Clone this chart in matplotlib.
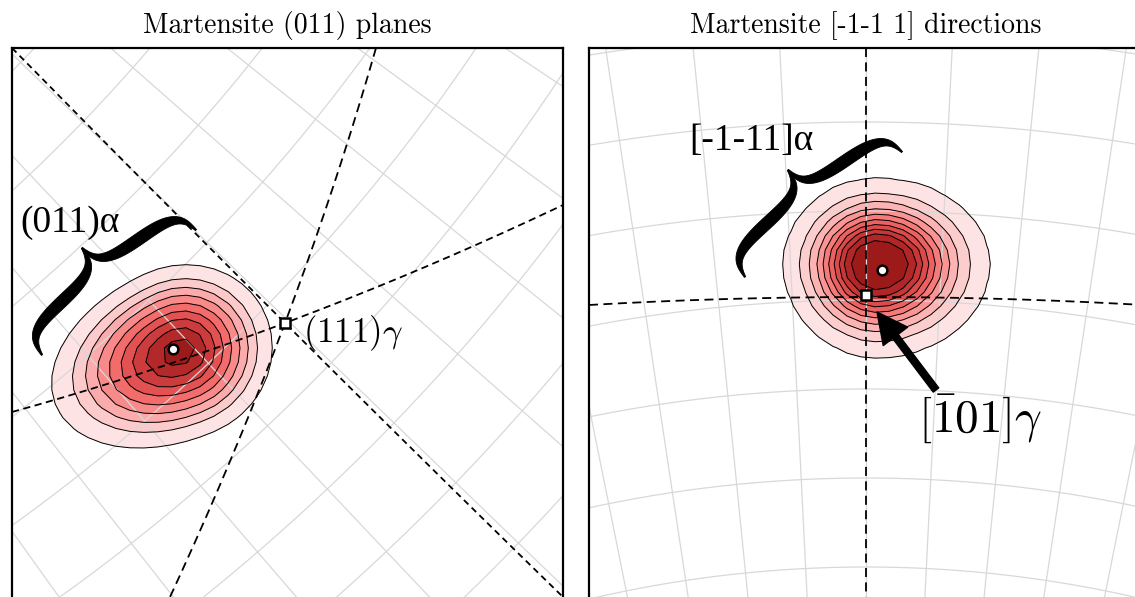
import numpy as np
import matplotlib
matplotlib.use("Agg")
import matplotlib.pyplot as plt
from matplotlib.colors import LinearSegmentedColormap
from matplotlib.patches import Polygon

W, H = 1135, 597
plt.rcParams['mathtext.fontset'] = 'cm'

# ---------------- data ----------------
titles = ["Martensite (011) planes", "Martensite [-1-1 1] directions"]

# left panel: (011)alpha pole density (cone-like, asymmetric), pixel space
left_peak = (181, 351)
left_angle = 24.0            # tilt of the major axis (deg, rising to the right)
left_a_pos, left_a_neg = 93, 138   # half-lengths along the major axis
left_b_pos, left_b_neg = 86, 88    # half-lengths along the minor axis
left_levels = [0.01, 0.17, 0.27, 0.36, 0.45, 0.54, 0.63, 0.73, 0.85]

# right panel: [-1-11]alpha direction density (gaussian-like, asymmetric)
right_peak = (877, 264)
right_angle = 0.0
right_a_pos, right_a_neg = 46, 38
right_b_pos, right_b_neg = 35, 38
right_levels = [0.05, 0.13, 0.21, 0.29, 0.37, 0.45, 0.53, 0.61, 0.69, 0.79]

# markers
left_mean = (173, 349)
left_gamma = (285, 323)
right_mean = (882, 270)
right_gamma = (866, 295)

# dashed plane traces (anchor points)
left_trace_a = ([12, 285, 563], [48, 323, 597])
left_trace_b = ([376, 285, 170], [48, 323, 597])
left_trace_c = ([12, 285, 563], [412, 323, 205])
right_trace_v = ([866, 866], [48, 602])
right_trace_h = ([589, 866, 1143], [305, 297, 305])

# braces: two ends and the cusp
left_brace = ((42, 355), (196, 230), (82, 248))
right_brace = ((745, 277), (902, 152), (788, 170))

# stereographic grid (polar approximations: center, ray angles below horizontal, ring radii)
left_grid_center = (-1095, -1015)
left_grid_angles = [31.0, 33.6, 36.2, 38.8, 41.4, 44.0, 46.6, 49.2, 51.8, 54.4, 57.0]
left_grid_radii = [1464, 1551, 1637, 1724, 1810, 1897, 1983, 2070, 2156, 2243, 2330]
right_grid_center = (866, 1780)
right_grid_angles = [75.75, 78.6, 81.45, 84.3, 87.15, 90.0, 92.85, 95.7, 98.55, 101.4, 104.25]
right_grid_radii = [1836, 1747, 1658, 1569, 1480, 1391, 1302, 1213, 1124]

band_colors = ['#fde3e3', '#fccaca', '#fbabab', '#f88a8a', '#f26c6c',
               '#e35252', '#cd3c3c', '#b42828', '#9c1a1a']
cmap = LinearSegmentedColormap.from_list('pinkred', band_colors)
GRID_COLOR = '#d8d8d8'

# ---------------- drawing ----------------
fig = plt.figure(figsize=(W / 100, H / 100), dpi=100)


def make_ax(x0, x1, ytop, ybot):
    ax = fig.add_axes([x0 / W, 1 - ybot / H, (x1 - x0) / W, (ybot - ytop) / H])
    ax.set_xlim(x0, x1)
    ax.set_ylim(ybot, ytop)
    ax.set_xticks([])
    ax.set_yticks([])
    for s in ax.spines.values():
        s.set_linewidth(1.6)
        s.set_zorder(10)
    return ax


def rho(X, Y, peak, ang, a_pos, a_neg, b_pos, b_neg):
    a = np.deg2rad(ang)
    dx = X - peak[0]
    dy = Y - peak[1]
    u = dx * np.cos(a) - dy * np.sin(a)
    v = -dx * np.sin(a) - dy * np.cos(a)
    au = np.where(u >= 0, a_pos, a_neg)
    bv = np.where(v >= 0, b_pos, b_neg)
    return np.sqrt((u / au) ** 2 + (v / bv) ** 2)


def draw_density(ax, Z, X, Y, levels):
    lv = list(levels) + [Z.max() + 0.01]
    cols = [cmap(t) for t in np.linspace(0, 1, len(lv) - 1)]
    ax.contourf(X, Y, Z, levels=lv, colors=cols, zorder=1)
    ax.contour(X, Y, Z, levels=levels, colors='k', linewidths=0.7, zorder=3)


def grid_xy(ax, step):
    xs = np.arange(ax.get_xlim()[0] - 8, ax.get_xlim()[1] + 8, step)
    ys = np.arange(min(ax.get_ylim()) - 8, max(ax.get_ylim()) + 8, step)
    return np.meshgrid(xs, ys)


def draw_polar_grid(ax, center, angles, radii, down=False):
    cx, cy = center
    r = np.linspace(0, 4000, 400)
    sgn = 1 if down else -1
    for a in angles:
        t = np.deg2rad(a)
        ax.plot(cx + r * np.cos(t), cy + sgn * r * np.sin(t), color=GRID_COLOR,
                lw=0.9, zorder=2)
    t = np.linspace(0, 2 * np.pi, 8000)
    for R in radii:
        ax.plot(cx + R * np.cos(t), cy - R * np.sin(t), color=GRID_COLOR,
                lw=0.9, zorder=2)


def dashed_curve(ax, xs, ys, by='x', dashes=(4, 2.5)):
    if len(xs) == 2:
        ax.plot(xs, ys, color='k', lw=1.3, dashes=dashes, zorder=4)
        return
    if by == 'x':
        p = np.polyfit(xs, ys, 2)
        xx = np.linspace(min(xs), max(xs), 300)
        ax.plot(xx, np.polyval(p, xx), color='k', lw=1.3, dashes=dashes, zorder=4)
    else:
        p = np.polyfit(ys, xs, 2)
        yy = np.linspace(min(ys), max(ys), 300)
        ax.plot(np.polyval(p, yy), yy, color='k', lw=1.3, dashes=dashes, zorder=4)


def draw_brace(ax, spec, tmax=12.0, tmin=1.5, beta=0.75, gam=0.85):
    p1, p2, cusp = [np.asarray(p, float) for p in spec]
    mid = (p1 + p2) / 2
    L = np.linalg.norm(p2 - p1)
    e = (p2 - p1) / L
    nvec = cusp - mid
    h = np.linalg.norm(nvec)
    n = nvec / h
    s = np.linspace(0, 1, 300)
    for sign in (-1, 1):
        u = sign * (L / 2) * (s - gam * np.sin(2 * np.pi * s) / (2 * np.pi))
        v = h * (1 - (s + beta * np.sin(2 * np.pi * s) / (2 * np.pi)))
        P = mid[None, :] + u[:, None] * e[None, :] + v[:, None] * n[None, :]
        d = np.gradient(P, axis=0)
        d /= np.linalg.norm(d, axis=1)[:, None]
        N = np.stack([-d[:, 1], d[:, 0]], axis=1)
        t = tmin + (tmax - tmin) * np.sin(np.pi * s) ** 1.2
        A = P + N * (t / 2)[:, None]
        B = P - N * (t / 2)[:, None]
        poly = np.vstack([A, B[::-1]])
        ax.add_patch(Polygon(poly, closed=True, facecolor='k', edgecolor='k',
                             lw=0.6, zorder=7))


# ---- left panel ----
axL = make_ax(12, 563, 48, 600)
X, Y = grid_xy(axL, 14)
ZL = 1 - rho(X, Y, left_peak, left_angle, left_a_pos, left_a_neg, left_b_pos, left_b_neg)
draw_density(axL, ZL, X, Y, left_levels)
draw_polar_grid(axL, left_grid_center, left_grid_angles, left_grid_radii, down=True)
dashed_curve(axL, *left_trace_a, by='x', dashes=(3.5, 2.5))
dashed_curve(axL, *left_trace_b, by='y', dashes=(5, 3))
dashed_curve(axL, *left_trace_c, by='x', dashes=(4, 2.5))
axL.plot(*left_mean, 'o', ms=7, mfc='white', mec='k', mew=1.8, zorder=6)
axL.plot(*left_gamma, 's', ms=6.5, mfc='white', mec='k', mew=1.8, zorder=6)
axL.text(20, 232, "(011)α", fontsize=27, family='Liberation Serif',
         ha='left', va='baseline', zorder=7)
axL.text(303, 342, r"$(111)\gamma$", fontsize=25, ha='left', va='baseline', zorder=7)
draw_brace(axL, left_brace)

# ---- right panel ----
axR = make_ax(589, 1143, 48, 602)
X, Y = grid_xy(axR, 14)
r = rho(X, Y, right_peak, right_angle, right_a_pos, right_a_neg, right_b_pos, right_b_neg)
ZR = np.exp(-0.5 * r ** 2)
draw_density(axR, ZR, X, Y, right_levels)
draw_polar_grid(axR, right_grid_center, right_grid_angles, right_grid_radii)
dashed_curve(axR, *right_trace_v, dashes=(5, 3))
dashed_curve(axR, *right_trace_h, by='x', dashes=(5, 3))
axR.plot(*right_mean, 'o', ms=7, mfc='white', mec='k', mew=1.8, zorder=6)
axR.plot(*right_gamma, 's', ms=6.5, mfc='white', mec='k', mew=1.8, zorder=6)
axR.text(689, 150, "[-1-11]α", fontsize=27, family='Liberation Serif',
         ha='left', va='baseline', zorder=7)
axR.text(918, 433, r"$[\bar{1}01]\gamma$", fontsize=34, ha='left', va='baseline', zorder=7)
draw_brace(axR, right_brace)
axR.annotate('', xy=(877, 312), xytext=(936, 390),
             arrowprops=dict(facecolor='k', edgecolor='k', width=5,
                             headwidth=22, headlength=22, shrink=0),
             zorder=7)

# titles
fig.text(287.5 / W, 1 - 33 / H, titles[0], family='cmr10', fontsize=20,
         ha='center', va='baseline')
fig.text(866 / W, 1 - 33 / H, titles[1], family='cmr10', fontsize=20,
         ha='center', va='baseline')

fig.savefig("out.png", dpi=100)
